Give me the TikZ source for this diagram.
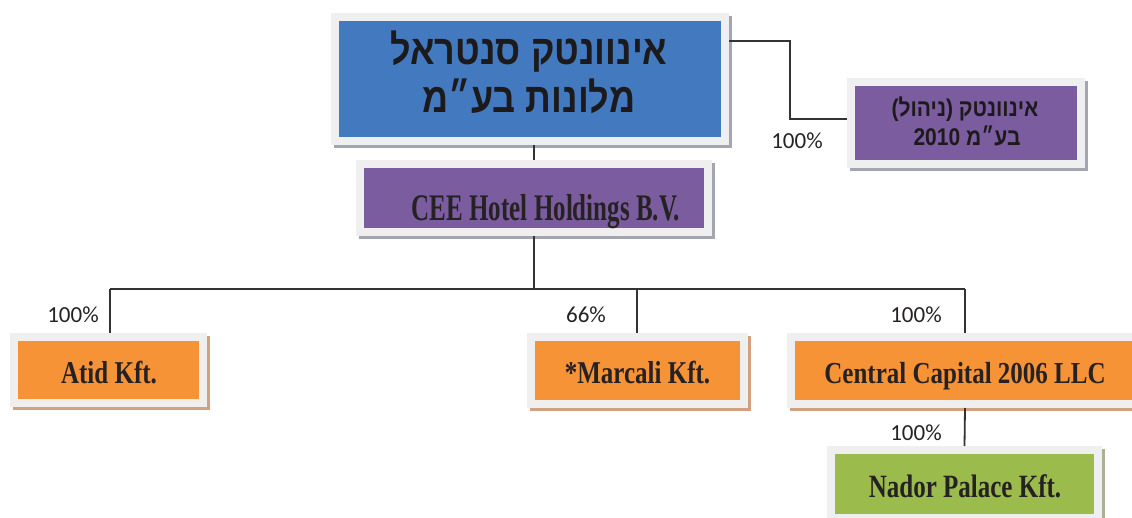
\documentclass[tikz,border=0pt]{standalone}
\usepackage{graphicx}
\usepackage{fontspec}
\setmainfont{Liberation Serif}
\newfontfamily\hebfont[Script=Hebrew]{Liberation Sans}
\newfontfamily\pctfont{Carlito}
\TeXXeTstate=1
\definecolor{bluebox}{HTML}{4379BE}
\definecolor{purplebox}{HTML}{7B5C9F}
\definecolor{orangebox}{HTML}{F69337}
\definecolor{greenbox}{HTML}{9BBB4D}
\definecolor{framecol}{HTML}{EFEFEF}
\definecolor{shgray}{HTML}{A3A6B0}
\definecolor{shtan}{HTML}{D3A181}
\definecolor{shgreen}{HTML}{A9B296}
\definecolor{linecol}{HTML}{333333}
\definecolor{txt}{HTML}{262223}
\definecolor{hebtxt}{HTML}{1C1A1B}
\begin{document}
\begin{tikzpicture}[x=1pt,y=-1pt,
  box/.style={draw=framecol, line width=8pt, inner sep=0pt, rectangle},
  sh/.style={preaction={draw=#1, fill=#1, line width=8pt, transform canvas={shift={(3pt,-3pt)}}}},
  conn/.style={draw=linecol, line width=1.8pt},
  pct/.style={font=\pctfont\fontsize{23}{23}\selectfont, text=txt, inner sep=0pt},
  lbl/.style={font=\bfseries\fontsize{25}{25}\selectfont, text=txt, inner sep=0pt, anchor=base},
  heb/.style={font=\hebfont\bfseries\fontsize{#1}{#1}\selectfont, text=hebtxt, inner sep=0pt, anchor=base},
]
\useasboundingbox (0,0) rectangle (1132,518);
\clip (0,0) rectangle (1132,518);

% connector bend points
\coordinate (b1) at (790,41);
\coordinate (b2) at (790,119);
\coordinate (hA) at (110,289);
\coordinate (hM) at (637,289);
\coordinate (hC) at (965,289);
\coordinate (hT) at (534,289);

% boxes
\node[box, sh=shgray, fill=bluebox, minimum width=390pt, minimum height=124pt] (top) at (530,79) {};
\node[box, sh=shgray, fill=purplebox, minimum width=230pt, minimum height=82pt] (mgmt) at (966,123) {};
\node[box, sh=shgray, fill=purplebox, minimum width=348pt, minimum height=68pt] (cee) at (534,198) {};
\node[box, sh=shtan, fill=orangebox, minimum width=189pt, minimum height=66pt] (atid) at (108.5,370) {};
\node[box, sh=shtan, fill=orangebox, minimum width=213pt, minimum height=67pt] (marcali) at (637.5,370.5) {};
\node[box, sh=shtan, fill=orangebox, minimum width=348pt, minimum height=67pt] (central) at (965,370.5) {};
\node[box, sh=shgreen, fill=greenbox, minimum width=267pt, minimum height=68pt] (nador) at (964.5,484) {};

% connectors
\draw[conn] (top.east |- b1) -- (b1) -- (b2) -- (mgmt.west |- b2);
\draw[conn] (cee.north |- top.south) -- (cee.north);
\draw[conn] (cee.south) -- (hT);
\draw[conn] (hA) -- (hC);
\draw[conn] (hA) -- (hA |- atid.north);
\draw[conn] (hM) -- (hM |- marcali.north);
\draw[conn] (hC) -- (central.north);
\draw[conn] (central.south) -- (nador.north);

% texts
\node[heb=36] (topL1) at (529,65) {\scalebox{1}[1.15]{\beginR אינוונטק סנטראל\endR}};
\node[heb=36] (topL2) at (529,113) {\scalebox{1}[1.15]{\beginR מלונות בע״מ\endR}};
\node[heb=21] (mgL1) at (965,117) {\scalebox{1}[1.15]{\beginR אינוונטק (ניהול)\endR}};
\node[heb=21] (mgL2) at (967,146) {\scalebox{1}[1.15]{\beginR בע״מ \beginL 2010\endL\endR}};
\node[lbl] (ceeT) at (546,221) {\scalebox{1}[1.5]{CEE Hotel Holdings B.V.}};
\node[lbl] (atidT) at (109,383) {\scalebox{1}[1.27]{Atid Kft.}};
\node[lbl] (marT) at (637.5,384) {\scalebox{1}[1.27]{*Marcali Kft.}};
\node[lbl] (cenT) at (965,384) {\scalebox{1}[1.22]{Central Capital 2006 LLC}};
\node[lbl] (nadT) at (965,497) {\scalebox{1}[1.3]{Nador Palace Kft.}};

\node[pct] (p1) at (797,141) {100\%};
\node[pct] (p2) at (73,315) {100\%};
\node[pct] (p3) at (586,315) {66\%};
\node[pct] (p4) at (916,315) {100\%};
\node[pct] (p5) at (916,433) {100\%};
\end{tikzpicture}
\end{document}
